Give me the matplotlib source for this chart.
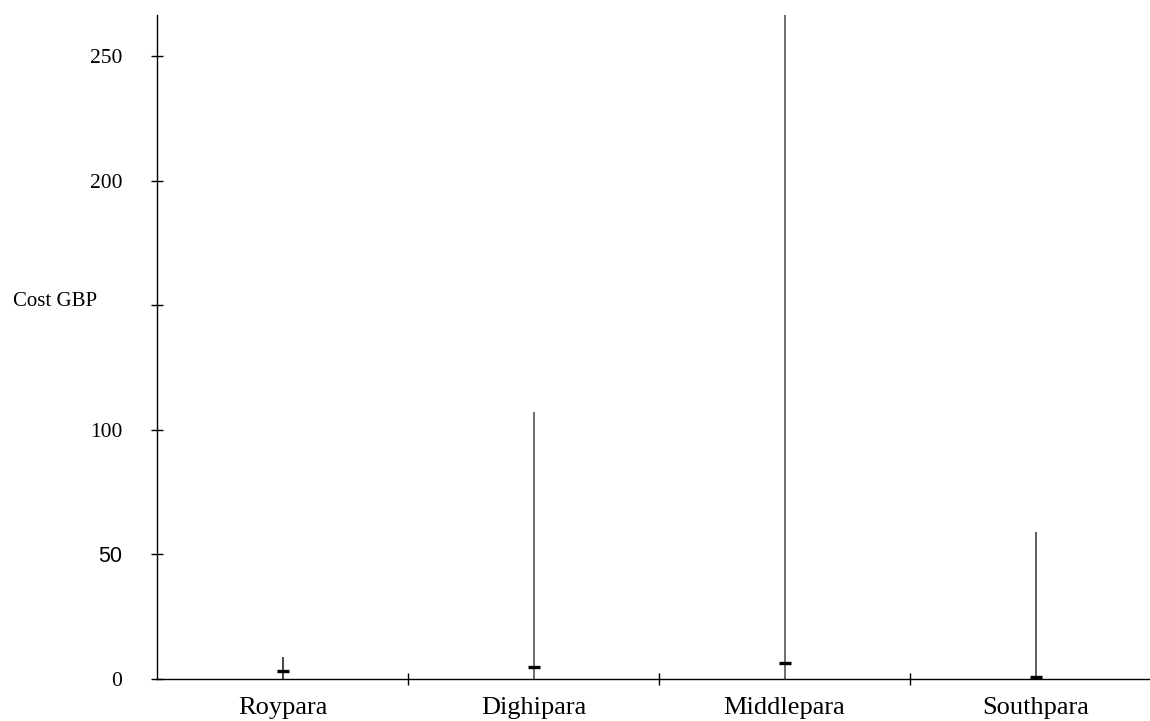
import matplotlib
matplotlib.use("Agg")
from matplotlib import pyplot as plt

plt.rcParams['font.family'] = ['Liberation Serif', 'DejaVu Serif']

# data
areas = ["Roypara", "Dighipara", "Middlepara", "Southpara"]
cost_min = [0, 0, 0, 0]
cost_max = [9, 107, 280, 59]
cost_median = [3.4, 4.7, 6.5, 1.0]
y_ticks = [0, 50, 100, 150, 200, 250]
y_tick_labels = ["0", "50", "100", "", "200", "250"]

W, H = 1150, 721
fig = plt.figure(figsize=(W / 100, H / 100), dpi=100)
ax = fig.add_axes([157 / W, (H - 679) / H, (1161 - 157) / W, (679 - 15) / H])

pos = [i + 0.5 for i in range(len(areas))]
line_colors = ["#222222", "#555555", "#555555", "#444444"]
ax.vlines(pos, cost_min, cost_max, colors=line_colors, linewidth=1.2, zorder=2)
ax.plot(pos, cost_median, linestyle="none", marker="_", markersize=8.5,
        markeredgewidth=2.4, color="black", zorder=3)

ax.set_xlim(0, len(areas))
ax.set_ylim(0, 266.5)

ax.spines["top"].set_visible(False)
ax.spines["right"].set_visible(False)
for s in ("left", "bottom"):
    ax.spines[s].set_linewidth(1.0)

ax.set_yticks(y_ticks)
ax.set_yticklabels(y_tick_labels, fontsize=15.5)
ax.tick_params(axis="y", direction="inout", length=8, width=1, pad=21)
for lab in ax.get_yticklabels():
    if lab.get_text() == "50":
        lab.set_family(["Liberation Sans", "DejaVu Sans"])

ax.set_xticks([1, 2, 3])
ax.set_xticklabels([])
ax.set_xticks(pos, minor=True)
ax.set_xticklabels(areas, minor=True, fontsize=19)
ax.tick_params(axis="x", which="major", direction="inout", length=8, width=1)
ax.tick_params(axis="x", which="minor", length=0, pad=13)

fig.text(13 / W, (H - 301) / H, "Cost GBP", fontsize=15, ha="left", va="center")

fig.savefig("out.png", dpi=100)
